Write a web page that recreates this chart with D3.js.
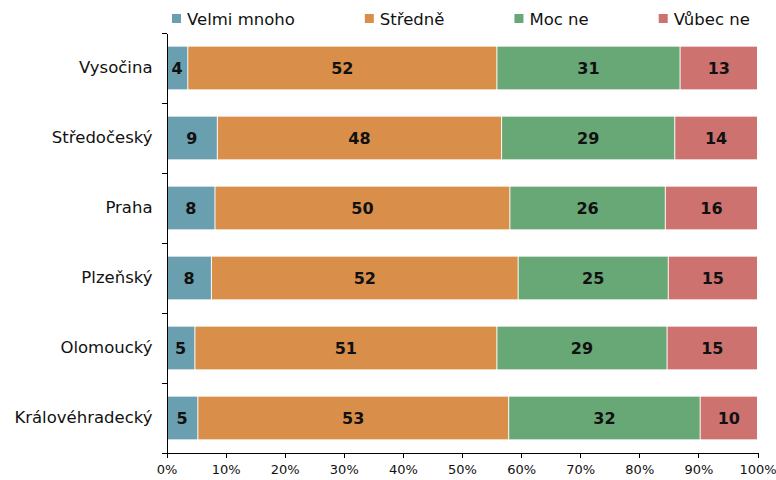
<!DOCTYPE html>
<html>
<head>
<meta charset="utf-8">
<script src="https://cdn.jsdelivr.net/npm/d3@7"></script>
<style>
  body { margin: 0; background: #fff; }
  svg { display: block; font-family: 'DejaVu Sans', Verdana, sans-serif; }
  .axis path, .axis line { stroke: #000; shape-rendering: crispEdges; }
  .axis text { fill: #111; }
</style>
</head>
<body>
<div id="chart"></div>
<script>
const categories = ['Vysočina', 'Středočeský', 'Praha', 'Plzeňský', 'Olomoucký', 'Královéhradecký'];
const seriesNames = ['Velmi mnoho', 'Středně', 'Moc ne', 'Vůbec ne'];
const velmiMnoho = [3.6, 8.6, 8.2, 7.6, 4.8, 5.3];
const stredne = [52.3, 48.1, 49.9, 51.9, 51.1, 52.6];
const mocNe = [31.0, 29.3, 26.3, 25.4, 28.8, 32.4];
const vubecNe = [13.1, 14.0, 15.6, 15.1, 15.3, 9.7];
const xTicks = [0, 10, 20, 30, 40, 50, 60, 70, 80, 90, 100];

const colors = ['#699fae', '#d98f4a', '#68a776', '#ce726f'];

function draw() {
  const dimensions = {
    width: 776,
    height: 480,
    margin: { top: 33, bottom: 27, left: 166.5, right: 18.5 },
  };
  dimensions.containerWidth = dimensions.width - dimensions.margin.left - dimensions.margin.right;
  dimensions.containerHeight = dimensions.height - dimensions.margin.top - dimensions.margin.bottom;

  const table = categories.map((c, i) => ({
    category: c,
    'Velmi mnoho': velmiMnoho[i],
    'Středně': stredne[i],
    'Moc ne': mocNe[i],
    'Vůbec ne': vubecNe[i],
  }));
  const stacked = d3.stack().keys(seriesNames)(table);

  const svg = d3.select('#chart').append('svg').attr('width', dimensions.width).attr('height', dimensions.height);
  const container = svg.append('g').attr('transform', `translate(${dimensions.margin.left}, ${dimensions.margin.top})`);

  const xScale = d3.scaleLinear().domain([0, 100]).range([0, dimensions.containerWidth]);
  const yScale = d3.scaleBand().domain(categories).range([0, dimensions.containerHeight]).paddingInner(0.39).paddingOuter(0.195);
  const colorScale = d3.scaleOrdinal().domain(seriesNames).range(colors);

  // bars
  const groups = container
    .selectAll('g.series')
    .data(stacked)
    .join('g')
    .attr('class', 'series')
    .attr('fill', (d) => colorScale(d.key));

  groups
    .selectAll('rect')
    .data((d) => d)
    .join('rect')
    .attr('x', (d) => xScale(d[0]) + 0.5)
    .attr('y', (d) => yScale(d.data.category))
    .attr('width', (d) => xScale(d[1]) - xScale(d[0]) - 1)
    .attr('height', yScale.bandwidth());

  // value labels
  groups
    .selectAll('text')
    .data((d) => d)
    .join('text')
    .attr('x', (d) => (xScale(d[0]) + xScale(d[1])) / 2)
    .attr('y', (d) => yScale(d.data.category) + yScale.bandwidth() / 2)
    .attr('dy', '0.36em')
    .attr('text-anchor', 'middle')
    .attr('fill', '#111')
    .style('font-size', '16px')
    .style('font-weight', 'bold')
    .text((d) => Math.round(d[1] - d[0]));

  // x axis
  const xAxis = d3
    .axisBottom(xScale)
    .tickValues(xTicks)
    .tickSize(5)
    .tickSizeOuter(0)
    .tickPadding(7)
    .tickFormat((d) => d + '%');
  container
    .append('g')
    .attr('class', 'axis')
    .attr('transform', `translate(0, ${dimensions.containerHeight})`)
    .call(xAxis)
    .call((g) => g.selectAll('text').style('font-size', '13px').style('font-family', "'DejaVu Sans', Verdana, sans-serif"));

  // y axis, labels centred on bands, ticks on band boundaries
  const yAxis = d3.axisLeft(yScale).tickSize(0).tickPadding(14);
  const yAxisGroup = container
    .append('g')
    .attr('class', 'axis')
    .call(yAxis)
    .call((g) => g.selectAll('text').style('font-size', '16.5px').style('font-family', "'DejaVu Sans', Verdana, sans-serif"));

  const boundaries = categories.map((c) => yScale(c) - (yScale.step() * yScale.paddingInner()) / 2).concat([dimensions.containerHeight]);
  yAxisGroup
    .selectAll('line.boundary')
    .data(boundaries)
    .join('line')
    .attr('class', 'boundary')
    .attr('x1', -5)
    .attr('x2', 0)
    .attr('y1', (d) => Math.round(d) + 0.5)
    .attr('y2', (d) => Math.round(d) + 0.5);

  // legend
  const legend = svg.append('g').attr('transform', 'translate(172, 14)');
  let lx = 0;
  seriesNames.forEach((name) => {
    const item = legend.append('g').attr('transform', `translate(${lx}, 0)`);
    item.append('rect').attr('width', 9).attr('height', 9).attr('fill', colorScale(name));
    const label = item
      .append('text')
      .attr('x', 15)
      .attr('y', 11)
      .attr('fill', '#111')
      .style('font-size', '16.5px')
      .text(name);
    lx += 15 + label.node().getComputedTextLength() + 70;
  });
}

draw();
</script>
</body>
</html>
